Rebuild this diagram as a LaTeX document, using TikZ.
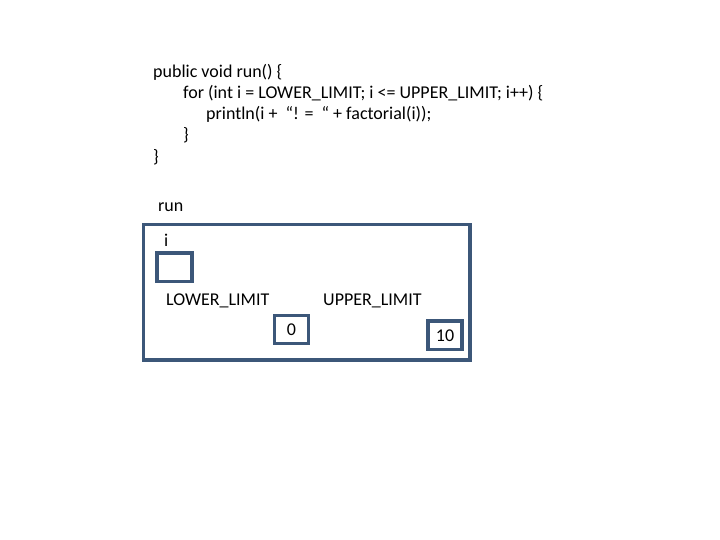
\documentclass[tikz,border=0pt]{standalone}
\usepackage{fontspec}
\setmainfont{Carlito}
\definecolor{frame}{HTML}{3C5779}
\begin{document}
\begin{tikzpicture}[x=1pt,y=-1pt,
  txt/.style={anchor=west,inner sep=0pt,font=\fontsize{18}{21}\selectfont},
  bx/.style={draw=frame,line width=3.3pt},
]
\useasboundingbox (0,0) rectangle (720,540);
\node[txt] (l1) at (153,72) {public void run() \{};
\node[txt] (l2) at (183,93) {for (int i = LOWER\_LIMIT; i <= UPPER\_LIMIT; i++) \{};
\node[txt] (l3) at (206,114) {println(i +\ \ “! =\ \ “ + factorial(i));};
\node[txt] (l4) at (183,135) {\}};
\node[txt] (l5) at (153,157) {\}};
\node[txt] (run) at (158,207) {run};
\draw[bx] (143.5,224.5) rectangle (470,360);
\node[txt] (i) at (164,240) {i};
\draw[bx] (157,253) rectangle (192,281.5);
\node[txt] (lower) at (166,301) {LOWER\_LIMIT};
\node[txt] (upper) at (323,301) {UPPER\_LIMIT};
\draw[bx] (274.5,315.5) rectangle (308.5,343.5);
\node[font=\fontsize{18}{21}\selectfont,inner sep=0pt] (zero) at (291.5,329.5) {0};
\draw[bx] (428,321) rectangle (462,349.5);
\node[font=\fontsize{18}{21}\selectfont,inner sep=0pt] (ten) at (445,335.5) {10};
\end{tikzpicture}
\end{document}
